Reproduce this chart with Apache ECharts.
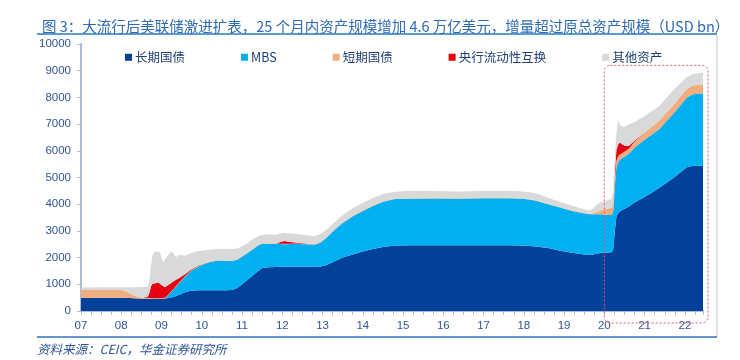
<!DOCTYPE html>
<html><head><meta charset="utf-8">
<script src="https://cdn.jsdelivr.net/npm/echarts@6/dist/echarts.min.js"></script>
<style>html,body{margin:0;padding:0;background:#fff}#c{width:740px;height:360px}</style>
</head><body><div id="c"></div>
<script>
// decimal years (shared by every series)
const dates = [2007.00,2007.50,2007.95,2008.05,2008.15,2008.30,2008.42,2008.55,2008.66,2008.70,2008.74,2008.78,2008.84,2008.90,2008.95,2009.00,2009.04,2009.08,2009.13,2009.18,2009.24,2009.30,2009.36,2009.42,2009.50,2009.60,2009.70,2009.80,2009.90,2010.00,2010.20,2010.40,2010.60,2010.75,2010.88,2011.00,2011.20,2011.40,2011.50,2011.65,2011.85,2011.95,2012.05,2012.20,2012.40,2012.60,2012.80,2012.95,2013.10,2013.30,2013.50,2013.75,2014.00,2014.25,2014.50,2014.80,2015.20,2015.80,2016.40,2017.00,2017.60,2018.00,2018.30,2018.60,2018.90,2019.20,2019.45,2019.62,2019.72,2019.82,2019.92,2020.05,2020.18,2020.22,2020.26,2020.30,2020.35,2020.40,2020.45,2020.52,2020.62,2020.75,2021.00,2021.35,2021.73,2022.05,2022.20,2022.45];
// USD bn
const longTreasury = [500,500,500,500,495,480,465,460,460,460,460,460,460,460,460,460,462,465,475,490,505,530,560,600,650,710,750,770,775,776,776,777,780,790,860,1000,1250,1500,1610,1640,1650,1655,1660,1660,1660,1660,1660,1665,1720,1860,2000,2120,2230,2320,2400,2455,2460,2460,2460,2460,2460,2450,2420,2360,2260,2180,2130,2100,2120,2150,2170,2185,2200,2300,3000,3550,3680,3740,3790,3840,3920,4060,4270,4600,5000,5380,5440,5440];
const mbs = [0,0,0,0,0,0,0,0,0,0,0,0,0,0,0,0,0,10,60,130,210,290,360,420,500,600,700,790,880,950,1060,1110,1100,1080,1060,1030,990,950,910,880,860,850,840,845,850,840,825,900,1020,1180,1300,1430,1520,1610,1690,1740,1745,1750,1745,1760,1760,1750,1710,1640,1620,1570,1540,1520,1500,1470,1450,1420,1400,1450,1700,1850,1920,1940,1950,1960,1990,2060,2140,2200,2420,2620,2680,2720];
const shortTreasury = [290,290,285,270,220,110,60,45,40,30,25,22,20,18,18,18,18,18,18,18,18,18,18,18,18,18,18,18,18,18,18,18,18,18,18,18,18,18,18,18,18,18,18,18,18,18,18,18,18,18,18,18,18,18,18,18,18,18,18,18,18,18,18,18,18,18,18,18,40,100,160,220,260,260,250,240,210,190,180,180,190,230,280,310,320,326,326,326];
const swaps = [0,0,0,0,0,0,0,5,40,200,450,540,560,580,560,500,430,400,380,350,320,280,230,180,120,70,50,35,20,10,0,0,0,0,0,0,0,0,0,0,0,60,100,60,25,10,0,0,0,0,0,0,0,0,0,0,0,0,0,0,0,0,0,0,0,0,0,0,0,0,0,0,0,20,250,400,450,430,320,200,100,40,0,0,0,0,0,0];
const otherAssets = [90,95,100,115,170,300,365,385,370,460,815,1078,1210,1142,1202,1022,920,1007,1087,1132,1167,1042,832,882,802,682,622,587,547,506,446,415,432,432,402,372,362,332,322,332,332,317,312,317,317,312,297,297,282,262,282,282,282,282,272,257,277,262,257,262,262,262,262,222,182,172,142,122,170,280,300,305,340,470,600,660,890,650,660,740,790,690,610,550,560,434,434,434];
const seriesNames = ['长期国债','MBS','短期国债','央行流动性互换','其他资产'];
const seriesColors = ['#01419a','#00b0f0','#f2ad7e','#e60012','#d9d9d9'];
const yTicks = {min:0, max:10000, interval:1000};
const xRange = {min:2007, max:2022.45};
const titleText = '图 3：大流行后美联储激进扩表，25 个月内资产规模增加 4.6 万亿美元，增量超过原总资产规模（USD bn）';
const sourceText = '资料来源：CEIC，华金证券研究所';

const values = [longTreasury, mbs, shortTreasury, swaps, otherAssets];
const chart = echarts.init(document.getElementById('c'), null, {renderer:'canvas'});
const axisColor = '#2f5597';
const lineColor = '#a9bcd9';
chart.setOption({
  animation:false,
  backgroundColor:'#fff',
  title:{text:titleText, left:37, top:14, textStyle:{fontSize:14.5, fontWeight:'normal', color:'#2e6bb4', fontFamily:'Noto Sans CJK SC'}},
  legend:{data:seriesNames, left:120, top:46, itemGap:56, itemWidth:7, itemHeight:7, icon:'rect',
    textStyle:{fontSize:12.5, color:'#1f3f77', fontFamily:'Noto Sans CJK SC', padding:[0,0,0,-2]}},
  grid:{left:81, right:37, top:44, bottom:49, containLabel:false},
  xAxis:{type:'value', min:xRange.min, max:xRange.max, interval:1,
    axisLine:{show:true, lineStyle:{color:lineColor, width:2}},
    axisTick:{show:true, length:4, lineStyle:{color:lineColor, width:1}},
    minorTick:{show:true, splitNumber:4, length:4, lineStyle:{color:lineColor, width:1}},
    splitLine:{show:false},
    axisLabel:{color:axisColor, fontSize:11.5, fontFamily:'Liberation Sans', margin:9, showMaxLabel:false,
      formatter:v=>String(Math.round(v)).slice(2)}},
  yAxis:{type:'value', min:yTicks.min, max:yTicks.max, interval:yTicks.interval,
    axisLine:{show:true, lineStyle:{color:lineColor, width:2}},
    axisTick:{show:true, length:4, lineStyle:{color:lineColor}},
    splitLine:{show:false},
    axisLabel:{color:axisColor, fontSize:11.5, fontFamily:'Liberation Sans', margin:10, formatter:v=>String(v)}},
  series: seriesNames.map((n,k)=>({
    name:n, type:'line', stack:'total', symbol:'none', smooth:false,
    lineStyle:{width:0}, itemStyle:{color:seriesColors[k]},
    areaStyle:{color:seriesColors[k], opacity:1},
    encode:{x:1, y:0},
    data: dates.map((d,i)=>[values[k][i], d])
  }))
});
// annotations computed from the axes
const xl = chart.convertToPixel({xAxisIndex:0}, 2020);
const xr = chart.convertToPixel({xAxisIndex:0}, dates[dates.length-1]) + 5;
const yt = chart.convertToPixel({yAxisIndex:0}, 9200);
const yb = chart.convertToPixel({yAxisIndex:0}, 0) + 12;
chart.setOption({graphic:[
  {type:'line', shape:{x1:37,y1:34,x2:717,y2:34}, style:{stroke:'#5b9bd5', lineWidth:2}},
  {type:'line', shape:{x1:717,y1:35,x2:717,y2:337}, style:{stroke:'#c8c8c8', lineWidth:1}},
  {type:'line', shape:{x1:37,y1:337,x2:717,y2:337}, style:{stroke:'#2e75b6', lineWidth:1.5}},
  {type:'rect', shape:{x:xl, y:yt, width:xr-xl, height:yb-yt, r:6}, z:100,
    style:{fill:'none', stroke:'#e05a6a', lineWidth:1, lineDash:[2,2]}},
  {type:'text', left:37, top:343, style:{text:sourceText, fill:'#2f5597', fontSize:12.5, fontStyle:'italic', fontFamily:'Noto Sans CJK SC'}}
]});
</script></body></html>
